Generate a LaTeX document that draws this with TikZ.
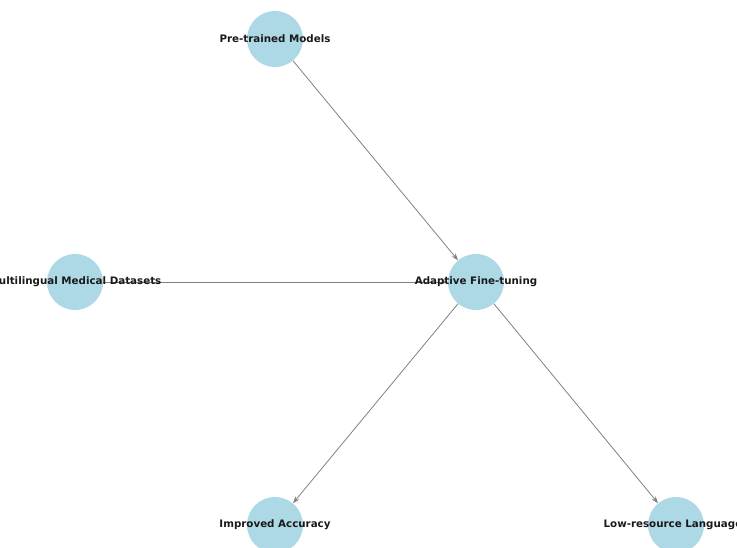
\documentclass[tikz,border=0pt]{standalone}
\usepackage{fontspec}
\setmainfont{DejaVu Sans}
\usetikzlibrary{arrows.meta}
\definecolor{nodeblue}{HTML}{ADD8E6}
\definecolor{edgegray}{HTML}{808080}
\tikzset{
  bubble/.style={circle, fill=nodeblue, draw=none, minimum size=56pt, inner sep=0pt},
  lbl/.style={font=\bfseries\fontsize{10.3pt}{12pt}\selectfont, text=black!90, inner sep=0pt},
  conn/.style={draw=edgegray, line width=0.8pt, -{Stealth[length=7pt,width=5pt]}}
}
\begin{document}
\begin{tikzpicture}[x=1pt,y=1pt]
\useasboundingbox (0,0) rectangle (737,548);
\clip (0,0) rectangle (737,548);
\node[bubble] (pre) at (275,509) {};
\node[bubble] (multi) at (75,266) {};
\node[bubble] (adapt) at (476,266) {};
\node[bubble] (acc) at (275,23) {};
\node[bubble] (low) at (676,23) {};
\draw[conn] (pre) -- (adapt);
\draw[conn] (multi) -- (adapt);
\draw[conn] (adapt) -- (acc);
\draw[conn] (adapt) -- (low);
\node[lbl] (tpre) at (pre) {Pre-trained Models};
\node[lbl] (tmulti) at (multi) {Multilingual Medical Datasets};
\node[lbl] (tadapt) at (adapt) {Adaptive Fine-tuning};
\node[lbl] (tacc) at (acc) {Improved Accuracy};
\node[lbl] (tlow) at (low) {Low-resource Languages};
\end{tikzpicture}
\end{document}
